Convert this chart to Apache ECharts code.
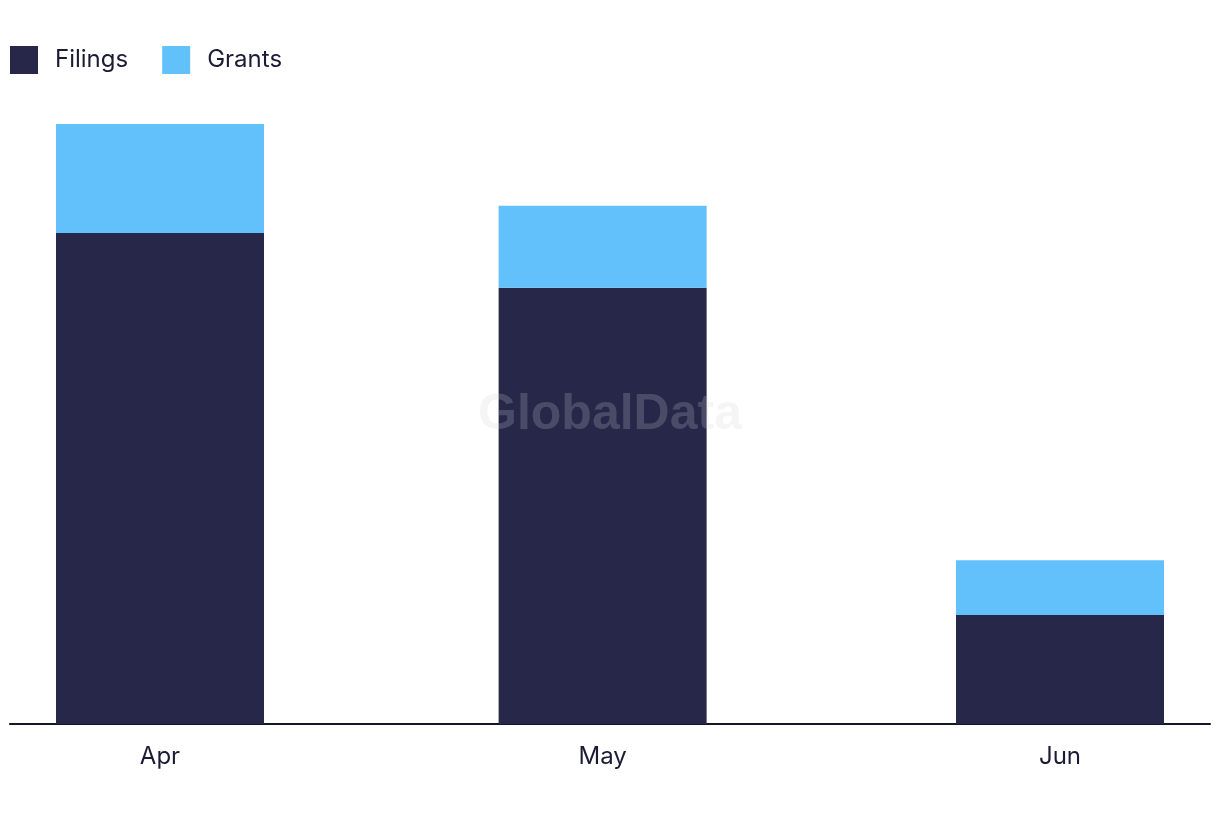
<!DOCTYPE html>
<html>
<head>
<meta charset="utf-8">
<script src="https://cdn.jsdelivr.net/npm/echarts@6/dist/echarts.min.js"></script>
<style>
html,body{margin:0;padding:0;background:#fff;}
#chart{width:1220px;height:822px;}
</style>
</head>
<body>
<div id="chart"></div>
<script>
var months = ['2023-04-01', '2023-05-01', '2023-06-01'];
var monthLabels = ['Apr', 'May', 'Jun'];
var filings = [18, 16, 4];
var grants = [4, 3, 2];

function ts(s) {
  var p = s.split('-');
  return Date.UTC(+p[0], +p[1] - 1, +p[2]);
}
var DAY = 86400000;
var times = months.map(ts);
var pad = 10.167 * DAY;
var xMin = times[0] - pad, xMax = times[2] + pad;

var chart = echarts.init(document.getElementById('chart'));
chart.setOption({
  animation: false,
  textStyle: { fontFamily: 'Inter, Lato, sans-serif' },
  legend: {
    left: 10, top: 46, padding: 0,
    itemWidth: 28, itemHeight: 28, itemGap: 34,
    icon: 'rect',
    textStyle: { fontSize: 24, color: '#1b1b33', padding: [0, 0, 0, 12], fontFamily: 'Inter, sans-serif' },
    data: ['Filings', 'Grants']
  },
  grid: { left: 10, right: 10, top: 124, bottom: 98, containLabel: false },
  xAxis: {
    type: 'value',
    min: xMin, max: xMax,
    axisLine: { show: true, lineStyle: { color: '#14142b', width: 2 } },
    axisTick: { show: false },
    splitLine: { show: false },
    axisLabel: {
      customValues: times,
      margin: 21,
      fontSize: 24,
      color: '#1b1b33',
      formatter: function (v) {
        var i = times.indexOf(v);
        return i >= 0 ? monthLabels[i] : '';
      }
    }
  },
  yAxis: {
    type: 'value', min: 0, max: 22,
    show: false,
    splitLine: { show: false }
  },
  graphic: [{
    type: 'text',
    left: 'center', top: 390,
    z: 100,
    style: {
      text: 'GlobalData',
      font: 'bold 50px "Liberation Sans", Arial, sans-serif',
      fill: 'rgba(207,207,212,0.21)'
    }
  }],
  series: [{
    name: 'Filings', type: 'bar', stack: 'a', barWidth: 208,
    encode: { x: 1, y: 0 },
    itemStyle: { color: '#272849' },
    data: times.map(function (t, i) { return [filings[i], t]; })
  }, {
    name: 'Grants', type: 'bar', stack: 'a', barWidth: 208,
    encode: { x: 1, y: 0 },
    itemStyle: { color: '#62C1FA' },
    data: times.map(function (t, i) { return [grants[i], t]; })
  }]
});
</script>
</body>
</html>
